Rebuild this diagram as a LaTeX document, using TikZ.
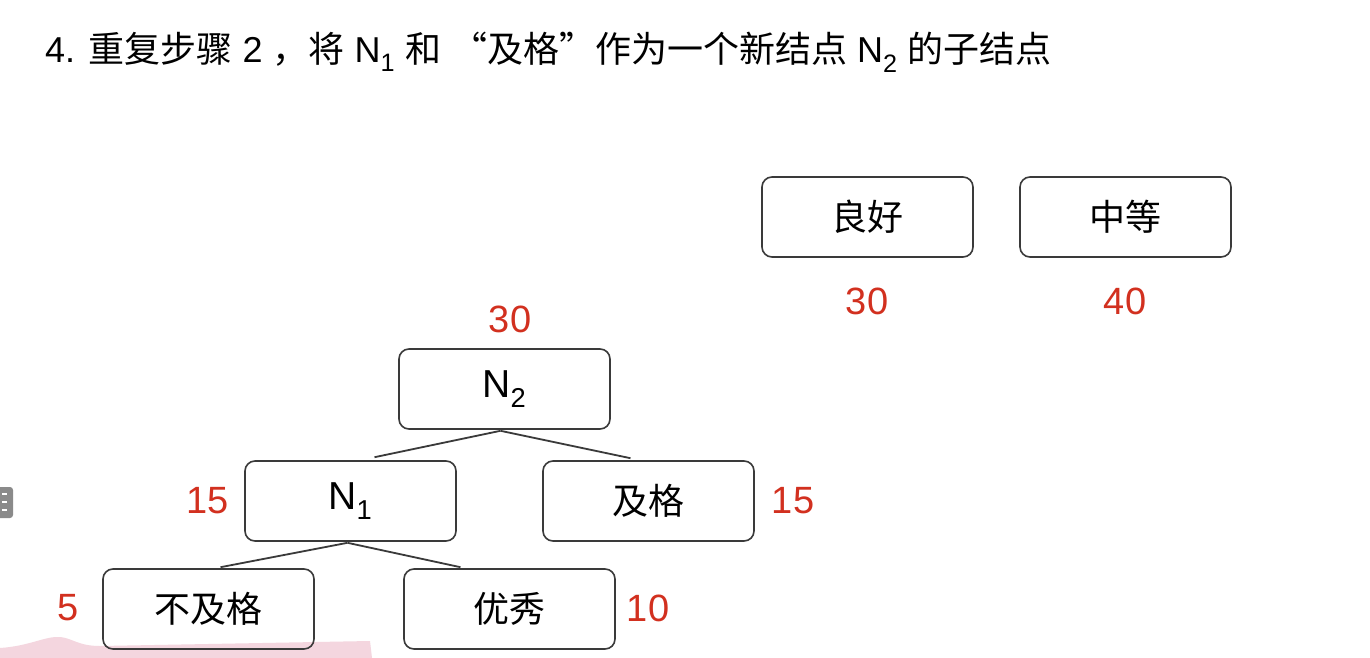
\documentclass[tikz,border=0pt]{standalone}
\usepackage{fontspec}
\setmainfont{Liberation Sans}
\newfontfamily\cjk{Noto Sans CJK SC}
\usetikzlibrary{calc}

\definecolor{edgegray}{HTML}{3A3A3A}
\definecolor{weightred}{HTML}{D2301F}
\definecolor{stripepink}{HTML}{F4D6DF}
\definecolor{tabgray}{HTML}{8A8A8A}

\tikzset{
  treebox/.style={draw=edgegray, line width=1.6pt, rounded corners=10pt,
    minimum width=211pt, minimum height=80pt, inner sep=0pt,
    font=\cjk\fontsize{36}{42}\selectfont},
  latinlabel/.style={font=\fontsize{39}{44}\selectfont},
  weight/.style={text=weightred, inner sep=0pt,
    font=\fontsize{38}{44}\selectfont},
  branch/.style={draw=edgegray, line width=1.8pt},
}

\begin{document}
\begin{tikzpicture}[x=1pt, y=-1pt]
  \useasboundingbox (0,0) rectangle (1370,658);
  \fill[white] (0,0) rectangle (1370,658);

  % pale band along the lower left edge
  \fill[stripepink] (0,658) -- (0,648) .. controls (30,646) and (45,636) .. (60,637)
    .. controls (72,638) and (78,646) .. (100,646)
    -- (370,641) -- (372,658) -- cycle;

  % small tab on the left edge
  \fill[tabgray, rounded corners=3pt] (-6,487) rectangle (13,518);
  \foreach \yy in {494,502,510} \draw[white, line width=1.2pt] (2,\yy) -- (7,\yy);

  % heading
  \node[anchor=base west, inner sep=0pt, font=\fontsize{36}{42}\selectfont] (title) at (45,63)
    {4. {\cjk 重复步骤} 2 {\cjk ，将} N\textsubscript{1} {\cjk 和} {\cjk “及格”作为一个新结点} N\textsubscript{2} {\cjk 的子结点}};

  % nodes
  \node[treebox] (lh) at (867.5,217) {良好};
  \node[treebox] (zd) at (1125.5,217) {中等};
  \node[treebox, latinlabel] (n2) at (504.5,389) {N\textsubscript{2}};
  \node[treebox, latinlabel] (n1) at (350.5,501) {N\textsubscript{1}};
  \node[treebox] (jg) at (648.5,501) {及格};
  \node[treebox] (bjg) at (208.5,609) {不及格};
  \node[treebox] (yx) at (509.5,609) {优秀};

  % weights
  \node[weight] (wlh) at (867,301) {30};
  \node[weight] (wzd) at (1125,301) {40};
  \node[weight] (wn2) at (510,319) {30};
  \node[weight] (wn1) at (208,501) {15};
  \node[weight] (wjg) at (793,501) {15};
  \node[weight] (wbjg) at (68,608) {5};
  \node[weight] (wyx) at (648,608) {10};

  % branches
  \draw[branch] ([xshift=-4pt,yshift=-1pt]n2.south) -- ([xshift=24pt,yshift=3pt]n1.north);
  \draw[branch] ([xshift=-4pt,yshift=-1pt]n2.south) -- ([xshift=-18pt,yshift=2pt]jg.north);
  \draw[branch] ([xshift=-3pt,yshift=-1pt]n1.south) -- ([xshift=12pt,yshift=1pt]bjg.north);
  \draw[branch] ([xshift=-3pt,yshift=-1pt]n1.south) -- ([xshift=-49pt,yshift=1pt]yx.north);
\end{tikzpicture}
\end{document}
